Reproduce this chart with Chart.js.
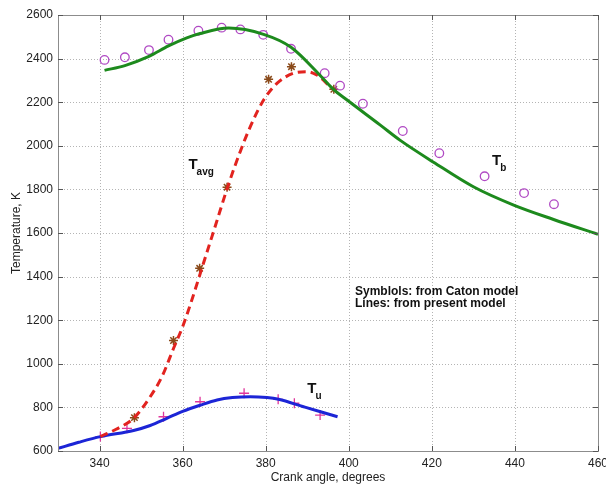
<!DOCTYPE html>
<html>
<head>
<meta charset="utf-8">
<script src="https://cdn.jsdelivr.net/npm/chart.js@4.4.1/dist/chart.umd.min.js"></script>
<style>
  html, body { margin: 0; padding: 0; background: #fff; }
  #wrap { width: 606px; height: 485px; position: relative; }
</style>
</head>
<body>
<div id="wrap"><canvas id="chart"></canvas></div>
<script>
// ---- data ----
// lines: from present model
const tbLineX   = [341.2, 346.1, 351.9, 356.6, 361.0, 364.2, 371.1, 379.5, 386.1, 393.0, 396.3, 399.6, 407.6, 412.4, 420.4, 430.0, 439.7, 449.3, 460.0];
const tbLineY   = [2346, 2368, 2410, 2458, 2495, 2515, 2540, 2511, 2452, 2325, 2259, 2210, 2095, 2025, 1925, 1812, 1728, 1662, 1594];

const tavgLineX = [340.2, 344.0, 348.2, 352.2, 355.0, 357.8, 360.0, 362.0, 365.0, 368.0, 371.0, 374.0, 376.3, 379.5, 382.7, 386.7, 389.9, 392.3, 396.3, 397.0];
const tavgLineY = [666, 700, 750, 849, 940, 1070, 1170, 1280, 1460, 1640, 1820, 1980, 2088, 2210, 2286, 2333, 2340, 2325, 2259, 2250];

const tuLineX   = [330.0, 335.0, 340.2, 348.2, 352.2, 356.2, 360.0, 364.2, 368.3, 372.0, 376.3, 380.3, 383.1, 389.1, 393.0, 397.3];
const tuLineY   = [612, 640, 666, 694, 717, 750, 782, 810, 834, 845, 849, 845, 837, 803, 781, 757];

// symbols: from Caton model
const tbSymX   = [341.2, 346.1, 351.9, 356.6, 363.8, 369.4, 373.9, 379.4, 386.1, 394.2, 397.9, 403.4, 413.0, 421.8, 432.7, 442.2, 449.4];
const tbSymY   = [2394, 2406, 2439, 2487, 2528, 2542, 2534, 2509, 2445, 2333, 2276, 2193, 2068, 1966, 1860, 1783, 1732];

const tavgSymX = [348.4, 357.8, 364.1, 370.7, 380.7, 386.2, 396.4];
const tavgSymY = [753, 1107, 1438, 1810, 2305, 2363, 2259];

const tuSymX   = [340.2, 346.6, 355.4, 364.2, 374.8, 383.0, 386.9, 393.1];
const tuSymY   = [666, 704, 757, 826, 865, 837, 819, 765];

// axes
const xTicks = [340, 360, 380, 400, 420, 440, 460];
const yTicks = [600, 800, 1000, 1200, 1400, 1600, 1800, 2000, 2200, 2400, 2600];

function pts(xs, ys) {
    return xs.map(function (x, i) { return { x: x, y: ys[i] }; });
}

// text labels placed in data units
const curveLabels = [
    { main: 'T', sub: 'avg', x: 361.4, y: 1894 },
    { main: 'T', sub: 'b',   x: 434.5, y: 1914 },
    { main: 'T', sub: 'u',   x: 390.0, y: 864 }
];
const noteLines = [
    { text: 'Symblols: from Caton model', x: 401.5, y: 1316 },
    { text: 'Lines: from present model',  x: 401.5, y: 1261 }
];

const FONT = '"Liberation Sans", Arial, Helvetica, sans-serif';

const boxPlugin = {
    id: 'boxPlugin',
    beforeDatasetsDraw: function (chart) {
        const ctx = chart.ctx;
        const a = chart.chartArea;
        const xs = chart.scales.x;
        const ys = chart.scales.y;
        // dotted grid
        ctx.save();
        ctx.strokeStyle = '#b4b4b4';
        ctx.lineWidth = 1;
        ctx.setLineDash([1, 2]);
        ctx.beginPath();
        xTicks.forEach(function (v) {
            const px = Math.round(xs.getPixelForValue(v)) + 0.5;
            ctx.moveTo(px, a.top); ctx.lineTo(px, a.bottom);
        });
        yTicks.forEach(function (v) {
            const py = Math.round(ys.getPixelForValue(v)) + 0.5;
            ctx.moveTo(a.left, py); ctx.lineTo(a.right, py);
        });
        ctx.stroke();
        ctx.restore();
    },
    afterDatasetsDraw: function (chart) {
        const ctx = chart.ctx;
        const a = chart.chartArea;
        const xs = chart.scales.x;
        const ys = chart.scales.y;
        ctx.save();
        ctx.strokeStyle = '#8c8c8c';
        ctx.lineWidth = 1;
        ctx.strokeRect(Math.round(a.left) + 0.5, Math.round(a.top) + 0.5,
                       Math.round(a.right - a.left), Math.round(a.bottom - a.top));
        // inward tick marks on all four sides
        ctx.strokeStyle = '#555';
        ctx.beginPath();
        xTicks.forEach(function (v) {
            const px = Math.round(xs.getPixelForValue(v)) + 0.5;
            ctx.moveTo(px, a.bottom); ctx.lineTo(px, a.bottom - 5);
            ctx.moveTo(px, a.top);    ctx.lineTo(px, a.top + 5);
        });
        yTicks.forEach(function (v) {
            const py = Math.round(ys.getPixelForValue(v)) + 0.5;
            ctx.moveTo(a.left, py);  ctx.lineTo(a.left + 5, py);
            ctx.moveTo(a.right, py); ctx.lineTo(a.right - 5, py);
        });
        ctx.stroke();
        ctx.restore();
    },
    afterDraw: function (chart) {
        const ctx = chart.ctx;
        const xs = chart.scales.x;
        const ys = chart.scales.y;
        ctx.save();
        ctx.fillStyle = '#111';
        ctx.textBaseline = 'alphabetic';
        ctx.textAlign = 'left';
        curveLabels.forEach(function (l) {
            const px = xs.getPixelForValue(l.x);
            const py = ys.getPixelForValue(l.y);
            ctx.font = 'bold 15px ' + FONT;
            ctx.fillText(l.main, px, py);
            const w = ctx.measureText(l.main).width;
            ctx.font = 'bold 10px ' + FONT;
            ctx.fillText(l.sub, px + w - 1, py + 6);
        });
        ctx.font = 'bold 12px ' + FONT;
        noteLines.forEach(function (n) {
            ctx.fillText(n.text, xs.getPixelForValue(n.x), ys.getPixelForValue(n.y));
        });
        ctx.restore();
    }
};

const lineStyle = { showLine: true, pointRadius: 0, borderWidth: 3, cubicInterpolationMode: 'monotone', fill: false };

new Chart(document.getElementById('chart').getContext('2d'), {
    type: 'scatter',
    data: {
        datasets: [
            Object.assign({ label: 'Tb line', data: pts(tbLineX, tbLineY), borderColor: '#1d8a1d' }, lineStyle),
            Object.assign({ label: 'Tavg line', data: pts(tavgLineX, tavgLineY), borderColor: '#e2231f', borderDash: [8, 5] }, lineStyle),
            Object.assign({ label: 'Tu line', data: pts(tuLineX, tuLineY), borderColor: '#1c25d6' }, lineStyle),
            {
                label: 'Tb Caton', data: pts(tbSymX, tbSymY), pointStyle: 'circle', pointRadius: 4.3,
                borderColor: '#b04ac4', backgroundColor: 'rgba(0,0,0,0)', borderWidth: 1.3
            },
            {
                label: 'Tavg Caton', data: pts(tavgSymX, tavgSymY), pointStyle: 'star', pointRadius: 4.5,
                borderColor: '#8a4a1a', backgroundColor: '#8a4a1a', borderWidth: 1.5
            },
            {
                label: 'Tu Caton', data: pts(tuSymX, tuSymY), pointStyle: 'cross', pointRadius: 5,
                borderColor: '#e0369c', borderWidth: 1.3
            }
        ]
    },
    options: {
        responsive: true,
        maintainAspectRatio: false,
        animation: false,
        layout: { padding: { top: 15, right: 8, left: 0, bottom: 0 } },
        plugins: {
            legend: { display: false },
            tooltip: { enabled: false }
        },
        scales: {
            x: {
                type: 'linear', min: 330, max: 460,
                afterBuildTicks: function (s) { s.ticks = xTicks.map(function (v) { return { value: v }; }); },
                afterFit: function (s) { s.height = 34; s.paddingLeft = 0; s.paddingRight = 0; },
                grid: { display: false, drawTicks: false },
                border: { display: false },
                ticks: {
                    padding: 5, color: '#222', font: { family: FONT, size: 12 }, maxRotation: 0,
                    callback: function (v) { return String(v); }
                },
                title: { display: true, text: 'Crank angle, degrees', color: '#222', font: { family: FONT, size: 12 }, padding: { top: 0, bottom: 0 } }
            },
            y: {
                type: 'linear', min: 600, max: 2600,
                afterBuildTicks: function (s) { s.ticks = yTicks.map(function (v) { return { value: v }; }); },
                afterFit: function (s) { s.width = 58; s.paddingTop = 0; s.paddingBottom = 0; },
                grid: { display: false, drawTicks: false },
                border: { display: false },
                ticks: {
                    padding: 5, color: '#222', font: { family: FONT, size: 12 },
                    callback: function (v) { return String(v); }
                },
                title: { display: true, text: 'Temperature, K', color: '#222', font: { family: FONT, size: 12 }, padding: { top: 9, bottom: 0 } }
            }
        }
    },
    plugins: [boxPlugin]
});
</script>
</body>
</html>
